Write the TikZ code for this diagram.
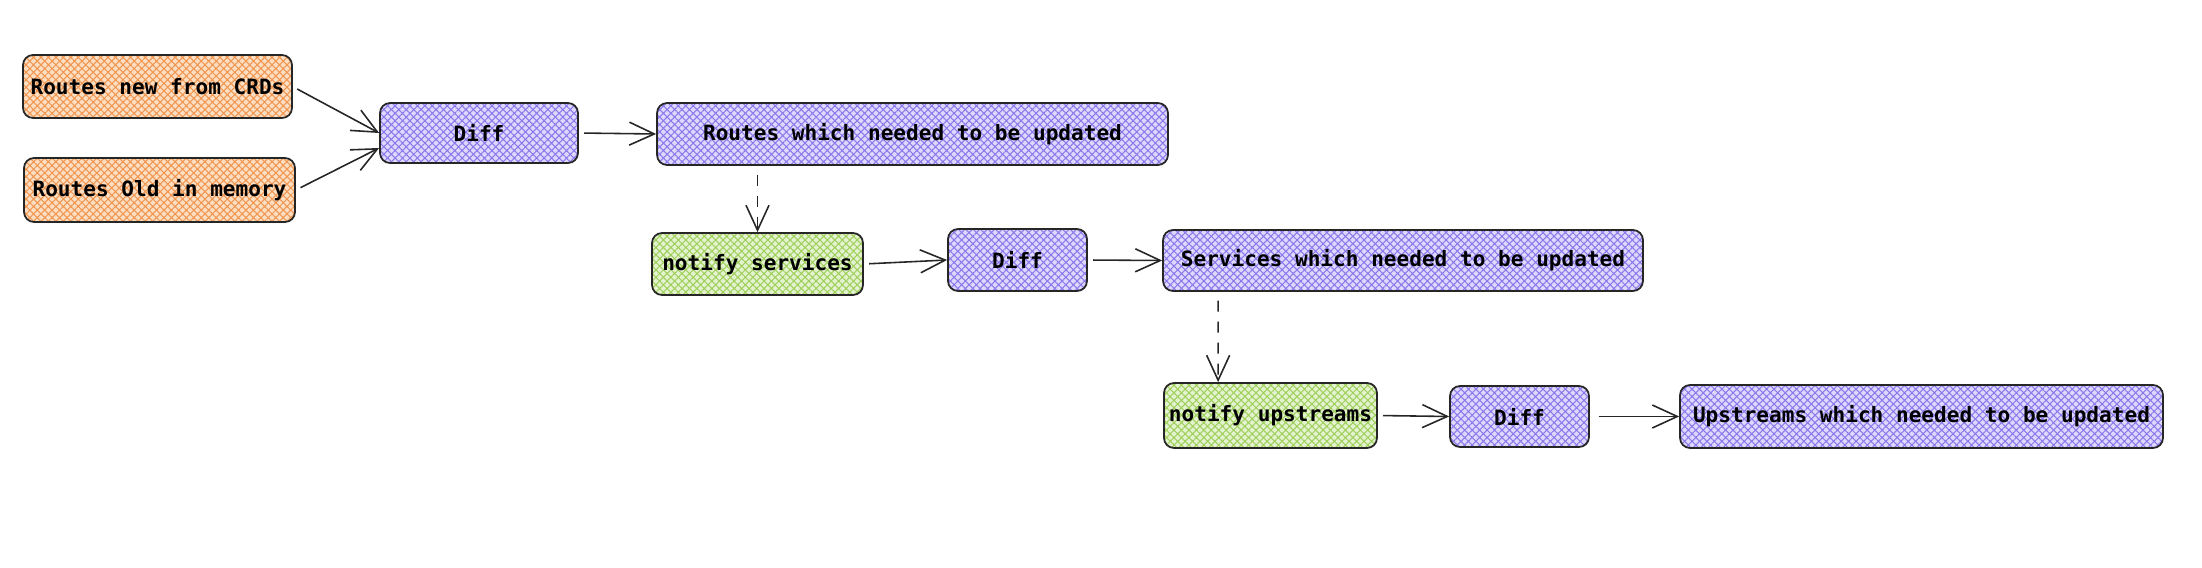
\documentclass[tikz,border=0pt]{standalone}
\usepackage{fontspec}
\setmonofont{DejaVu Sans Mono}
\usetikzlibrary{arrows.meta, calc, positioning, patterns.meta}
\definecolor{routesfill}{RGB}{252,222,194}
\definecolor{routeshatch}{RGB}{240,150,80}
\definecolor{difffill}{RGB}{222,216,252}
\definecolor{diffhatch}{RGB}{140,120,236}
\definecolor{notifyfill}{RGB}{228,242,208}
\definecolor{notifyhatch}{RGB}{160,208,92}

\begin{document}
\begin{tikzpicture}[x=0.02cm, y=-0.02cm,
  box/.style={draw=black!85, line width=1pt, rounded corners=0.2cm, inner sep=0pt,
    font=\ttfamily\bfseries\fontsize{12}{14}\selectfont, text=black},
  hatched/.style={box, preaction={fill=#1fill},
    pattern={Hatch[angle=45, distance=3pt, line width=0.6pt]}, pattern color=#1hatch},
  flow/.style={-{Straight Barb[length=0.5cm, width=0.46cm]}, line width=0.9pt,
    draw=black!85, shorten <=3pt},
  dflow/.style={flow, dash pattern=on 0.22cm off 0.2cm}]
  \useasboundingbox (0,0) rectangle (2202,568);
  %--- route sources and first diff -------------------------------------------
  \node[hatched=routes, minimum width=5.38cm, minimum height=1.26cm] (rnew)
    at (157.5,86.5) {Routes new from CRDs};
  \node[hatched=routes, minimum width=5.42cm, minimum height=1.28cm] (rold)
    at (159.5,190) {Routes Old in memory};
  \node[hatched=diff, minimum width=3.96cm, minimum height=1.2cm] (diff1)
    at (479,133) {Diff};
  \node[hatched=diff, minimum width=10.22cm, minimum height=1.24cm] (routes)
    at (912.5,134) {Routes which needed to be updated};
  %--- services ---------------------------------------------------------------
  \node[hatched=notify, minimum width=4.22cm, minimum height=1.24cm] (nserv)
    at (757.5,264) {notify services};
  \node[hatched=diff, minimum width=2.78cm, minimum height=1.24cm] (diff2)
    at (1017.5,260) {Diff};
  \node[hatched=diff, minimum width=9.6cm, minimum height=1.22cm] (services)
    at (1403,260.5) {Services which needed to be updated};
  %--- upstreams --------------------------------------------------------------
  \node[hatched=notify, minimum width=4.26cm, minimum height=1.3cm] (nups)
    at (1270.5,415.5) {notify upstreams};
  \node[hatched=diff, minimum width=2.78cm, minimum height=1.22cm] (diff3)
    at (1519.5,416.5) {Diff};
  \node[hatched=diff, minimum width=9.66cm, minimum height=1.26cm] (upstreams)
    at (1921.5,416.5) {Upstreams which needed to be updated};
  %--- connectors -------------------------------------------------------------
  \draw[flow] (rnew.east) -- (diff1.west);
  \draw[flow] (rold.east) -- ([yshift=-0.3cm]diff1.west);
  \draw[flow] (diff1.east) -- (routes.west);
  \draw[dflow, shorten <=5pt] (nserv.north |- routes.south) -- (nserv.north);
  \draw[flow] (nserv.east) -- (diff2.west);
  \draw[flow] (diff2.east) -- (services.west);
  \draw[dflow, shorten <=5pt] ([xshift=1.12cm]services.south west)
    -- ([xshift=1.1cm]nups.north west);
  \draw[flow] (nups.east) -- (diff3.west);
  \draw[flow, shorten <=5pt] (diff3.east) -- (upstreams.west);
\end{tikzpicture}
\end{document}
